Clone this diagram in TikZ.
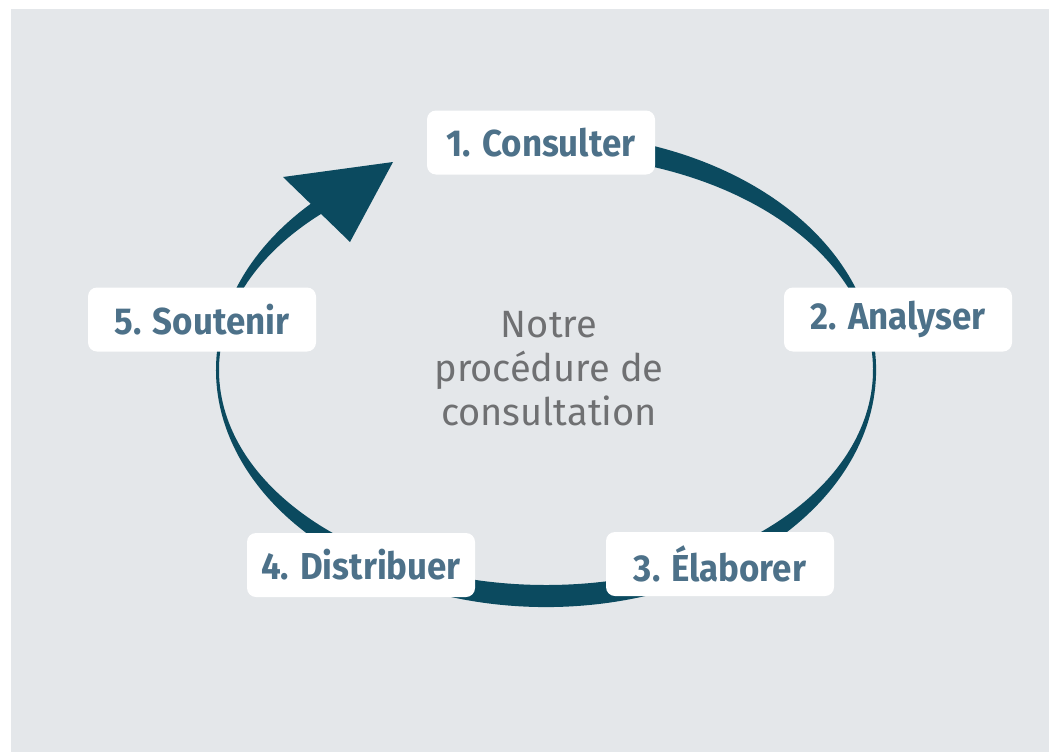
\documentclass[tikz,border=0pt]{standalone}
\usepackage{fontspec}
\setmainfont{Fira Sans}
\newfontfamily\labelfont{Fira Sans}[FakeStretch=0.93]

\definecolor{backgray}{HTML}{E4E7EA}
\definecolor{ringblue}{HTML}{0B4A5F}
\definecolor{labelblue}{HTML}{4D7189}
\definecolor{textgray}{HTML}{6F7072}

\tikzset{
  stepbox/.style={fill=white, rounded corners=9pt, minimum width=228pt, minimum height=64pt,
    inner sep=0pt, text=labelblue, font=\labelfont\bfseries\fontsize{37.5}{40}\selectfont},
  centretext/.style={align=center, text=textgray, font=\fontsize{38}{44}\selectfont}
}

\begin{document}
\begin{tikzpicture}[x=1pt, y=1pt]
            \useasboundingbox (0,0) rectangle (1049,-752);
            \fill[backgray] (11,-9) rectangle (1049,-752);

            % ring and arrow
            \fill[ringblue] ([shift={(546,-370)}]110:330 and 237)
              arc[start angle=110, end angle=-230, x radius=330, y radius=237]
              -- ([shift={(546,-370)}]130:327 and 215)
              arc[start angle=-230, end angle=110, x radius=327, y radius=215] -- cycle;
            \fill[ringblue] (393,-162) -- (283,-177) -- (350,-242) -- cycle;

            \node[stepbox] (consulter) at (541,-142.5) {1. Consulter};
            \node[stepbox] (analyser) at (898,-319.5) {2. Analyser};
            \node[stepbox] (elaborer) at (720,-564) {3. Élaborer};
            \node[stepbox] (distribuer) at (361,-565) {4. Distribuer};
            \node[stepbox] (soutenir) at (202,-319.5) {5. Soutenir};

            \node[centretext] (titre) at (549,-369) {Notre\\procédure de\\consultation};
          \end{tikzpicture}
\end{document}
